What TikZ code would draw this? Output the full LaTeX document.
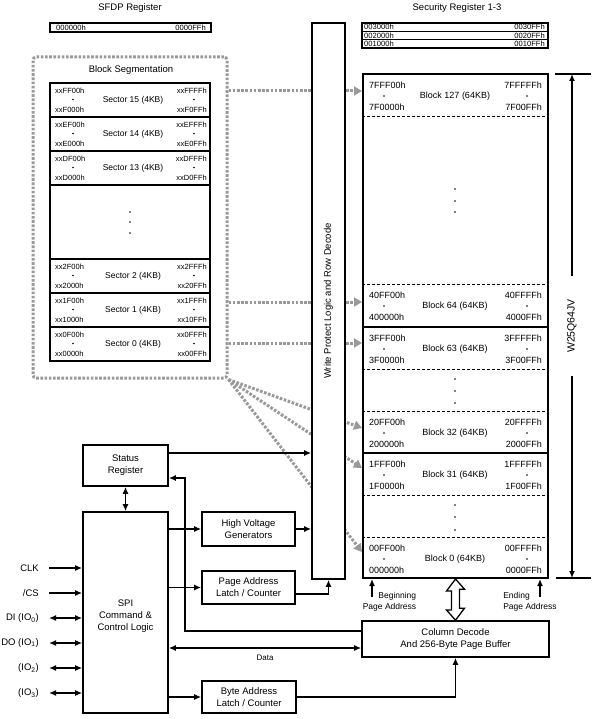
\documentclass[tikz,border=0pt]{standalone}
\usepackage{fontspec}
\setmainfont{Liberation Sans}
\usetikzlibrary{arrows.meta}

\newcommand{\fsz}[2]{\fontsize{#1pt}{#2pt}\selectfont}

\tikzset{
  box/.style={draw,line width=1.6pt,fill=white,align=center,inner sep=0pt,font=\fsz{9.5}{12}},
  lbl/.style={inner sep=0pt,font=\fsz{9.5}{12}},
  ttl/.style={inner sep=0pt,font=\fsz{9.5}{11}},
  small/.style={inner sep=0pt,font=\fsz{8.5}{10.5}},
  baddr/.style={inner sep=0pt,font=\fsz{9}{10}},
  saddr/.style={inner sep=0pt,font=\fsz{7.5}{9}},
  slbl/.style={inner sep=0pt,font=\fsz{8.5}{10}},
  raddr/.style={inner sep=0pt,font=\fsz{7.6}{8}},
  wire/.style={line width=1.7pt},
  blkdash/.style={line width=1pt,dash pattern=on 3pt off 2pt},
  segbox/.style={draw=black!40,line width=3pt,dash pattern=on 2.6pt off 1.6pt,rounded corners=3pt},
  seglink/.style={black!40,line width=3pt,dash pattern=on 2.6pt off 1.6pt,
    -{Triangle[length=8pt,width=9pt]}},
}

% one 64KB block: #1 top, #2 name, #3/#4 left addresses, #5/#6 right addresses, #7 label
\newcommand{\memblock}[7]{%
  \node[baddr,anchor=west] (#2tl) at (369,#1+11) {#3};
  \node[baddr,anchor=west] (#2bl) at (369,#1+33) {#4};
  \node[baddr,anchor=east] (#2tr) at (542,#1+11) {#5};
  \node[baddr,anchor=east] (#2br) at (542,#1+33) {#6};
  \node[baddr] (#2) at (455,#1+22) {#7};
  \fill (384,#1+22) circle[radius=0.9pt];
  \fill (527,#1+22) circle[radius=0.9pt];
}
% one 4KB sector: same arguments
\newcommand{\segrow}[7]{%
  \draw[line width=1.8pt] (50,#1) rectangle (210,#1+34);
  \node[saddr,anchor=west] (#2tl) at (55,#1+7.5) {#3};
  \node[saddr,anchor=west] (#2bl) at (55,#1+26.5) {#4};
  \node[saddr,anchor=east] (#2tr) at (207,#1+7.5) {#5};
  \node[saddr,anchor=east] (#2br) at (207,#1+26.5) {#6};
  \node[slbl] (#2) at (133,#1+17) {#7};
  \fill (73,#1+16.5) circle[radius=0.8pt];
  \fill (194,#1+16.5) circle[radius=0.8pt];
}

\begin{document}
\begin{tikzpicture}[x=1pt,y=-1pt,>={Latex[length=7pt,width=6pt]}]
  \useasboundingbox (0,0) rectangle (596,719);
  % Registers on top
  \node[ttl] (sfdpttl) at (130,8) {SFDP Register};
  \node[ttl] (secttl) at (457,8) {Security Register 1-3};
  \draw[line width=1.8pt] (50,23) rectangle (211,32);
  \node[raddr,anchor=west] (sfdplo) at (56,27.5) {000000h};
  \node[raddr,anchor=east] (sfdphi) at (206,27.5) {0000FFh};
  \draw[line width=1.8pt] (362,23) rectangle (548,48);
  \draw[line width=1.2pt] (362,31.3) -- (548,31.3) (362,39.7) -- (548,39.7);
  \foreach \k/\yy in {3/27.2,2/35.5,1/43.9}{
    \node[raddr,anchor=west] (sec\k lo) at (364,\yy) {00\k000h};
    \node[raddr,anchor=east] (sec\k hi) at (545,\yy) {00\k0FFh};
  }

  % Block segmentation (sectors)
  \node[segbox,minimum width=194pt,minimum height=321pt] (seg) at (130,217.5) {};
  \node[ttl] (segttl) at (131,70) {Block Segmentation};
  \segrow{83}{s15}{xxFF00h}{xxF000h}{xxFFFFh}{xxF0FFh}{Sector 15 (4KB)}
  \segrow{117}{s14}{xxEF00h}{xxE000h}{xxEFFFh}{xxE0FFh}{Sector 14 (4KB)}
  \segrow{151}{s13}{xxDF00h}{xxD000h}{xxDFFFh}{xxD0FFh}{Sector 13 (4KB)}
  \draw[line width=1.8pt] (50,185) rectangle (210,259);
  \foreach \yy in {212,222,233} \fill (130,\yy) circle[radius=0.8pt];
  \segrow{259}{s2}{xx2F00h}{xx2000h}{xx2FFFh}{xx20FFh}{Sector 2 (4KB)}
  \segrow{293}{s1}{xx1F00h}{xx1000h}{xx1FFFh}{xx10FFh}{Sector 1 (4KB)}
  \segrow{327}{s0}{xx0F00h}{xx0000h}{xx0FFFh}{xx00FFh}{Sector 0 (4KB)}

  % Memory array
  \node[draw,line width=2pt,minimum width=185pt,minimum height=504pt,inner sep=0pt] (array) at (455.5,326) {};
  \foreach \yy in {117,284,369,411,495,537}
    \draw[blkdash] (array.west |- 0,\yy) -- (array.east |- 0,\yy);
  \foreach \yy in {327,453}
    \draw[line width=1.5pt] (array.west |- 0,\yy) -- (array.east |- 0,\yy);
  \memblock{74}{b127}{7FFF00h}{7F0000h}{7FFFFFh}{7F00FFh}{Block 127 (64KB)}
  \memblock{284}{b64}{40FF00h}{400000h}{40FFFFh}{4000FFh}{Block 64 (64KB)}
  \memblock{327}{b63}{3FFF00h}{3F0000h}{3FFFFFh}{3F00FFh}{Block 63 (64KB)}
  \memblock{411}{b32}{20FF00h}{200000h}{20FFFFh}{2000FFh}{Block 32 (64KB)}
  \memblock{453}{b31}{1FFF00h}{1F0000h}{1FFFFFh}{1F00FFh}{Block 31 (64KB)}
  \memblock{537}{b0}{00FF00h}{000000h}{00FFFFh}{0000FFh}{Block 0 (64KB)}
  \foreach \yy in {189,201,212,379,391,403,505,517,530}
    \fill (455,\yy) circle[radius=0.9pt];

  % Sector links into the blocks (run behind the decoder)
  \draw[seglink] (seg.east |- 0,91) -- (array.west |- 0,91);
  \draw[seglink] (seg.east |- 0,302) -- (array.west |- 0,302);
  \draw[seglink] (seg.east |- 0,343) -- (array.west |- 0,343);
  \draw[seglink] (seg.south east) -- (array.west |- 0,428);
  \draw[seglink] (seg.south east) -- (array.west |- 0,468);
  \draw[seglink] (seg.south east) -- (array.west |- 0,552);

  % Write protect / row decode
  \node[box,minimum width=33pt,minimum height=556pt] (wp) at (328.5,301) {};
  \node[lbl,rotate=90] (wplbl) at (wp.center) {Write Protect Logic and Row Decode};

  % Control blocks
  \node[box,minimum width=85pt,minimum height=41pt] (status) at (125.5,465.5) {Status\\Register};
  \node[box,minimum width=85pt,minimum height=201pt] (spi) at (125.5,612.5) {};
  \node[lbl,align=center] (spitxt) at (125.5,616) {SPI\\Command \&\\Control Logic};
  \node[box,minimum width=93pt,minimum height=34pt] (hv) at (248.5,529) {High Voltage\\Generators};
  \node[box,minimum width=93pt,minimum height=33pt] (pal) at (248.5,587.5) {Page Address\\Latch / Counter};
  \node[box,minimum width=94pt,minimum height=32pt] (bal) at (249,697) {Byte Address\\Latch / Counter};
  \node[box,minimum width=187pt,minimum height=36pt] (cdec) at (455.5,639) {Column Decode\\And 256-Byte Page Buffer};

  % Connections
  \draw[wire,->] (status.east |- 0,453) -- (wp.west |- 0,453);
  \draw[wire,<->] (status.south) -- (spi.north);
  \draw[wire,->] (spi.east |- hv.west) -- (hv.west);
  \draw[wire,->] (hv.east) -- (wp.west |- hv.east);
  \draw[wire,->] (spi.east |- pal.west) -- (pal.west);
  \draw[wire,->] ([yshift=-6.5pt]pal.east) -| (wp.south);
  \draw[wire,->] (cdec.west |- 0,631) -| (185,478) -- (status.east |- 0,478);
  \draw[wire,<->] (spi.east |- 0,648) -- (cdec.west |- 0,648)
    node[midway,below=6pt,small,font=\fsz{8}{10}] (datalbl) {Data};
  \draw[wire,->] (spi.east |- bal.west) -- (bal.west);
  \draw[wire,->] (bal.east) -| (cdec.south);
  \draw[line width=1.3pt,fill=white] (array.south) -- ++(-9,12) -- ++(5,0) -- ++(0,19) -- ++(-5,0)
    -- (cdec.north) -- ++(9,-12) -- ++(-5,0) -- ++(0,-19) -- ++(5,0) -- cycle;

  % Pins
  \node[lbl,anchor=east] (clk) at (39,568) {CLK};
  \node[lbl,anchor=east] (cs) at (39,593) {/CS};
  \node[lbl,anchor=east] (din) at (39,618) {DI (IO\textsubscript{0})};
  \node[lbl,anchor=east] (dout) at (39,643) {DO (IO\textsubscript{1})};
  \node[lbl,anchor=east] (io2) at (39,668) {(IO\textsubscript{2})};
  \node[lbl,anchor=east] (io3) at (39,693) {(IO\textsubscript{3})};
  \draw[wire,->] ([xshift=10pt]clk.east) -- (spi.west |- clk.east);
  \draw[wire,->] ([xshift=10pt]cs.east) -- (spi.west |- cs.east);
  \draw[wire,<->] ([xshift=10pt]din.east) -- (spi.west |- din.east);
  \draw[wire,<->] ([xshift=10pt]dout.east) -- (spi.west |- dout.east);
  \draw[wire,<->] ([xshift=10pt]io2.east) -- (spi.west |- io2.east);
  \draw[wire,<->] ([xshift=10pt]io3.east) -- (spi.west |- io3.east);

  % Page address markers
  \node[small,align=right] (beglbl) at (389.5,602) {Beginning\\Page Address};
  \node[small,align=left] (endlbl) at (530,602) {Ending\\Page Address};
  \coordinate (begtail) at (372,597);
  \coordinate (endtail) at (540,597);
  \draw[wire,->] (begtail) -- (array.south -| begtail);
  \draw[wire,->] (endtail) -- (array.south -| endtail);

  % Device size
  \node[rotate=90,inner xsep=23pt,inner ysep=0pt,font=\fsz{10.5}{12}] (dim) at (572,326) {W25Q64JV};
  \coordinate (dimtop) at (572,74);
  \coordinate (dimbot) at (572,578);
  \draw[wire,->] (dim.east) -- (dimtop);
  \draw[wire,->] (dim.west) -- (dimbot);
  \draw[wire] ([xshift=-17pt]dimtop) -- ([xshift=19pt]dimtop);
  \draw[wire] ([xshift=-16pt]dimbot) -- ([xshift=19pt]dimbot);
\end{tikzpicture}
\end{document}
